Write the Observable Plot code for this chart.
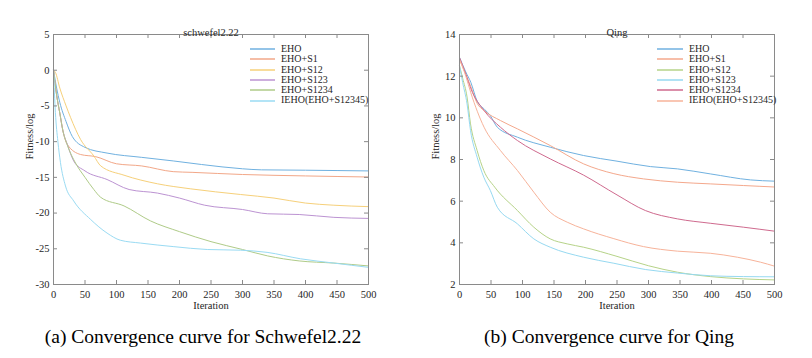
<!DOCTYPE html>
<html><head><meta charset="utf-8">
<script src="https://cdn.jsdelivr.net/npm/d3@7"></script>
<script src="https://cdn.jsdelivr.net/npm/@observablehq/plot@0.6"></script>
<style>
body{margin:0;background:#fff;}
#wrap{position:relative;width:812px;height:358px;overflow:hidden;background:#fff;font-family:'Liberation Serif','Times New Roman',Times,'DejaVu Serif',serif;}
.panel{position:absolute;top:0;}
.panel text{font-family:'Liberation Serif','Times New Roman',Times,'DejaVu Serif',serif;}
.caption{position:absolute;top:327px;font-size:19.5px;line-height:1;color:#000;white-space:nowrap;transform:translateX(-50%);}
.legend{position:absolute;font-size:10px;color:#262626;}
.legend .row{display:flex;align-items:center;height:10.3px;line-height:10.3px;white-space:nowrap;}
.legend svg{display:block;margin-right:6px;}
</style></head><body><div id="wrap"></div>
<script>
// ---------- data ----------
const seriesNames = ["EHO","EHO+S1","EHO+S12","EHO+S123","EHO+S1234","IEHO(EHO+S12345)"];
const xTicks = [0,50,100,150,200,250,300,350,400,450,500];
const schTicks = [-30,-25,-20,-15,-10,-5,0,5];
const qingTicks = [2,4,6,8,10,12,14];
const schColors = ["#70b1e0","#f2a788","#f6d07a","#bc93d2","#afcb88","#9adbf3"];
const qingColors = ["#70b1e0","#f4a88c","#b6d388","#96d9f1","#cf6a8e","#f7b39a"];

// Schwefel 2.22 (left)
const schEHO = [[0,0],[5,-2.5],[10,-4.5],[20,-7.2],[30,-9.3],[50,-10.8],[85,-11.6],[140,-12.2],[190,-12.7],[235,-13.2],[300,-13.8],[330,-13.95],[400,-14.0],[500,-14.1]];
const schS1 = [[0,0],[5,-3.5],[10,-6],[15,-8.5],[22,-10.4],[43,-11.8],[67,-12.1],[100,-13.1],[140,-13.4],[190,-14.2],[220,-14.3],[300,-14.6],[400,-14.8],[500,-14.95]];
const schS12 = [[0,0],[3,-0.3],[10,-2.5],[20,-5],[27,-6.6],[43,-9.7],[64,-12],[75,-13.4],[112,-14.7],[165,-15.9],[217,-16.6],[297,-17.4],[350,-17.9],[400,-18.6],[445,-18.9],[500,-19.1]];
const schS123 = [[0,0],[5,-3.5],[10,-6],[15,-8.5],[22,-10.4],[32,-12.7],[50,-14.1],[85,-15.3],[120,-16.7],[165,-17.2],[200,-17.9],[240,-18.9],[300,-19.5],[340,-20.1],[390,-20.2],[445,-20.6],[500,-20.75]];
const schS1234 = [[0,0],[5,-3.5],[10,-6],[15,-8.5],[22,-10.5],[35,-13],[50,-15],[64,-16.7],[75,-17.8],[112,-19],[154,-21.1],[200,-22.6],[250,-24],[300,-25.1],[340,-26],[390,-26.7],[445,-27],[500,-27.4]];
const schIEHO = [[0,0],[3,-5.9],[7,-10],[11,-12.9],[19,-16.2],[32,-18.3],[59,-20.9],[85,-22.8],[106,-23.8],[138,-24.2],[191,-24.7],[244,-25.1],[297,-25.2],[339,-25.5],[392,-26.4],[445,-27],[500,-27.6]];

// Qing (right)
const qingEHO = [[0,12.9],[10,12.2],[18,11.7],[28,10.8],[40,10.4],[49,10.1],[60,9.55],[92,9.07],[144,8.59],[197,8.19],[250,7.92],[303,7.66],[346,7.55],[398,7.31],[462,7.02],[500,6.96]];
const qingS1 = [[0,12.8],[10,12.1],[18,11.5],[28,10.7],[39,10.35],[65,9.87],[92,9.47],[144,8.67],[197,7.79],[245,7.32],[292,7.07],[346,6.91],[398,6.83],[451,6.75],[500,6.68]];
const qingS12 = [[0,12.5],[5,11.9],[12,11],[17.5,9.71],[28,8.43],[38.6,7.47],[56,6.67],[92,5.55],[118,4.75],[144,4.19],[171,3.95],[197,3.79],[250,3.35],[300,2.9],[346,2.59],[398,2.38],[451,2.27],[500,2.22]];
const qingS123 = [[0,12.5],[5,11.7],[12,10.67],[17.5,9.39],[28,8.11],[38.6,7.15],[49,6.51],[60,5.71],[92,4.91],[118,4.19],[144,3.79],[197,3.31],[245,3.02],[295,2.72],[346,2.55],[398,2.42],[451,2.38],[500,2.37]];
const qingS1234 = [[0,12.9],[10,12.1],[18,11.4],[39,10.35],[65,9.55],[92,8.91],[144,8.03],[197,7.25],[250,6.3],[295,5.55],[346,5.15],[398,4.94],[451,4.75],[500,4.56]];
const qingIEHO = [[0,12.8],[10,12.0],[18,11.2],[39,9.55],[65,8.43],[92,7.47],[118,6.43],[144,5.47],[171,4.99],[197,4.67],[245,4.2],[292,3.82],[346,3.6],[398,3.5],[441,3.31],[478,3.07],[500,2.88]];

// ---------- drawing ----------
const wrap = document.getElementById("wrap");
const W = 406, H = 325, mt = 34, mb = 41, ml = 53, mr = 38;
const fw = W - ml - mr, fh = H - mt - mb;
const gray = "#8a8a8a";
const txt = "#262626";
const serif = "'Liberation Serif','Times New Roman',Times,'DejaVu Serif',serif";

function panel(title, seriesData, colors, yDomain, yTicks, left) {
  const rows = [];
  seriesData.forEach((pts, i) => pts.forEach(([x, y]) => rows.push({series: seriesNames[i], x, y})));
  const chart = Plot.plot({
    width: W, height: H, marginTop: mt, marginBottom: mb, marginLeft: ml, marginRight: mr,
    style: {fontFamily: serif, fontSize: "10.5px", color: txt, background: "transparent", overflow: "visible"},
    x: {domain: [0, 500]},
    y: {domain: yDomain},
    color: {domain: seriesNames, range: colors},
    marks: [
      Plot.line(rows, {x: "x", y: "y", z: "series", stroke: "series", strokeWidth: 1, curve: "monotone-x"}),
      Plot.frame({stroke: gray}),
      Plot.ruleX(xTicks, {x: d => d, insetTop: fh - 4, stroke: gray}),
      Plot.ruleX(xTicks, {x: d => d, insetBottom: fh - 4, stroke: gray}),
      Plot.ruleY(yTicks, {y: d => d, insetRight: fw - 4, stroke: gray}),
      Plot.ruleY(yTicks, {y: d => d, insetLeft: fw - 4, stroke: gray}),
      Plot.axisX(xTicks, {tickSize: 0, tickPadding: 6, label: null, fontFamily: serif, fontSize: 10.5, tickFormat: d => String(d)}),
      Plot.axisY(yTicks, {tickSize: 0, tickPadding: 4, label: null, fontFamily: serif, fontSize: 10.5, tickFormat: d => String(d)}),
      Plot.text([title], {frameAnchor: "top", dy: -6, fontSize: 10.5, fontFamily: serif, fill: txt}),
      Plot.text(["Iteration"], {frameAnchor: "bottom", dy: 24.5, fontSize: 10.5, fontFamily: serif, fill: txt}),
      Plot.text(["Fitness/log"], {frameAnchor: "left", dx: -24, rotate: -90, fontSize: 10.5, fontFamily: serif, fill: txt})
    ]
  });
  chart.classList.add("panel");
  chart.style.left = left + "px";
  wrap.appendChild(chart);
}

function legend(colors, left, top, lineW) {
  const div = document.createElement("div");
  div.className = "legend";
  div.style.left = left + "px";
  div.style.top = top + "px";
  seriesNames.forEach((name, i) => {
    const row = document.createElement("div");
    row.className = "row";
    row.innerHTML = `<svg width="${lineW}" height="4"><line x1="0" x2="${lineW}" y1="2" y2="2" stroke="${colors[i]}" stroke-width="1.5"/></svg><span>${name}</span>`;
    div.appendChild(row);
  });
  wrap.appendChild(div);
}

function caption(text, cx) {
  const d = document.createElement("div");
  d.className = "caption";
  d.style.left = cx + "px";
  d.textContent = text;
  wrap.appendChild(d);
}

panel("schwefel2.22", [schEHO, schS1, schS12, schS123, schS1234, schIEHO], schColors, [-30, 5], schTicks, 0);
panel("Qing", [qingEHO, qingS1, qingS12, qingS123, qingS1234, qingIEHO], qingColors, [2, 14], qingTicks, 406);
legend(schColors, 250, 44, 25);
legend(qingColors, 657, 44, 26);
caption("(a) Convergence curve for Schwefel2.22", 203);
caption("(b) Convergence curve for Qing", 609);
</script></body></html>
